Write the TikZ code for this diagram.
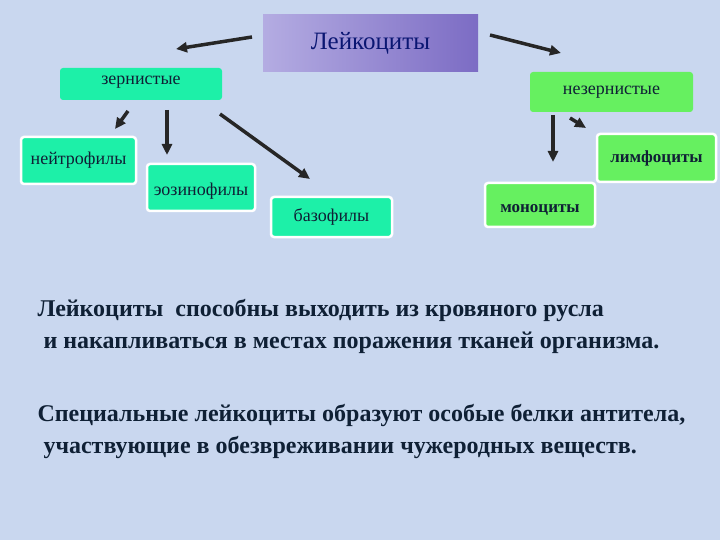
\documentclass[tikz,border=0pt]{standalone}
\usepackage{fontspec}
\setmainfont{Liberation Serif}
\usetikzlibrary{arrows.meta,shadows}
\definecolor{bg}{HTML}{C9D7EF}
\definecolor{aqua}{HTML}{1DF0A8}
\definecolor{lgreen}{HTML}{66F060}
\definecolor{txt}{HTML}{0F2035}
\definecolor{pl}{HTML}{B4ACE2}
\definecolor{pr}{HTML}{7C6CC4}
\tikzset{
 box/.style={draw=white,line width=2.5pt,rounded corners=3pt,text=txt,font=\fontsize{18}{20}\selectfont,inner sep=0pt},
 arr/.style={-{Triangle[length=11pt,width=10pt]},line width=3.5pt,draw=black!85},
}
\begin{document}
\begin{tikzpicture}[x=1pt,y=-1pt]
\fill[bg] (0,0) rectangle (720,540);
\node[inner sep=0pt,minimum width=215pt,minimum height=57pt,left color=pl,right color=pr,text=txt!70!blue,font=\fontsize{25}{28}\selectfont] (L) at (370.5,43.5) {Лейкоциты};
\node[box,draw=none,fill=aqua,minimum width=162pt,minimum height=32pt,text depth=8pt] (Z) at (141,84) {зернистые};
\node[box,draw=none,fill=lgreen,minimum width=163pt,minimum height=40pt] (N) at (611.5,92) {незернистые};
\node[box,fill=aqua,minimum width=115pt,minimum height=47pt] (n1) at (78.5,160.5) {нейтрофилы};
\node[box,fill=aqua,minimum width=108pt,minimum height=47pt,text height=20pt] (n2) at (201,187.5) {эозинофилы};
\node[box,fill=aqua,minimum width=121pt,minimum height=40pt] (n3) at (331.5,217) {базофилы};
\node[box,fill=lgreen,minimum width=110pt,minimum height=44pt,text height=18pt,font=\bfseries\fontsize{17}{20}\selectfont] (m1) at (540,205) {моноциты};
\node[box,fill=lgreen,minimum width=119pt,minimum height=48pt,font=\bfseries\fontsize{17}{20}\selectfont] (m2) at (656.5,158) {лимфоциты};
\coordinate (a1) at (252,37); \coordinate (b1) at (176,49);
\coordinate (a2) at (490,35); \coordinate (b2) at (561,53);
\coordinate (a3) at (128,111); \coordinate (b3) at (115,129);
\coordinate (a4) at (167,110); \coordinate (b4) at (167,155);
\coordinate (a5) at (220,114); \coordinate (b5) at (310,179);
\coordinate (a6) at (553,115); \coordinate (b6) at (553,162);
\coordinate (a7) at (570,118); \coordinate (b7) at (586,128);
\foreach \i in {1,...,7} \draw[arr] (a\i) -- (b\i);
\node[anchor=west,align=left,text=txt,font=\bfseries\fontsize{24}{32}\selectfont] (t1) at (34,326) {Лейкоциты\ \ способны выходить из кровяного русла\\ \ и накапливаться в местах поражения тканей организма.};
\node[anchor=west,align=left,text=txt,font=\bfseries\fontsize{24}{32}\selectfont] (t2) at (34,431) {Специальные лейкоциты образуют особые белки антитела,\\ \ участвующие в обезвреживании чужеродных веществ.};
\end{tikzpicture}
\end{document}
